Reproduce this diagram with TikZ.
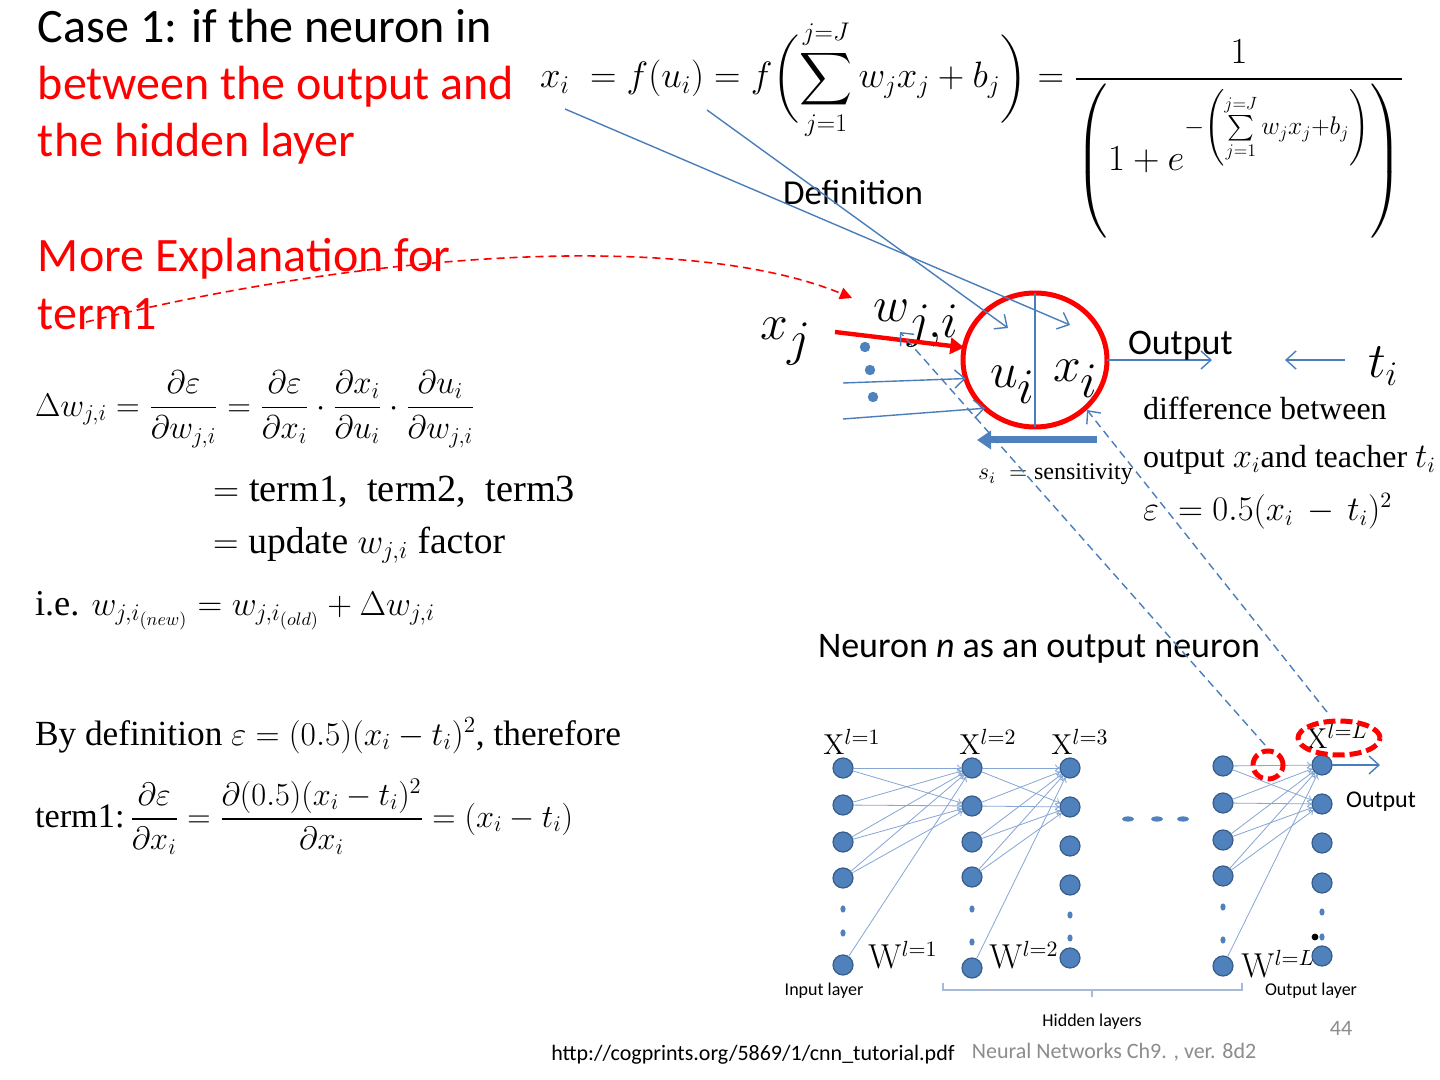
\documentclass[tikz,border=0pt]{standalone}
\usepackage[no-math]{fontspec}
\usepackage{amsmath}
\usepackage{graphicx}
\setmainfont{Carlito}
\newfontfamily\tnr{Liberation Serif}
\usetikzlibrary{arrows.meta,shapes.geometric}
\definecolor{lblue}{HTML}{4A7EBB}
\definecolor{nblue}{HTML}{4F81BD}
\definecolor{nedge}{HTML}{385D8A}
\definecolor{eblue}{HTML}{86A6D6}
\definecolor{fgray}{HTML}{8C8C8C}
\definecolor{bgray}{HTML}{A6BAD8}
\newcommand{\tr}[1]{\text{\tnr #1}}
\newcommand{\fs}[1]{\fontsize{#1}{#1}\selectfont}
\begin{document}
\begin{tikzpicture}[x=0.5pt,y=-0.5pt,
  every node/.style={inner sep=0pt,outer sep=0pt},
  ttl/.style={anchor=base west,font=\fs{24}},
  bw/.style={anchor=base west},
  nn/.style={circle,fill=nblue,draw=nedge,line width=0.6pt,minimum size=10pt,inner sep=0pt},
  wire/.style={draw=eblue,line width=0.4pt,-{To[length=2.5pt,width=3.5pt]}},
  thinblue/.style={draw=lblue,line width=0.7pt},
  opentip/.style={-{Straight Barb[length=5pt,width=9pt,line width=0.7pt]}},
  bdash/.style={draw=lblue,line width=0.7pt,dash pattern=on 4pt off 2.5pt},
  rdash/.style={draw=red,line width=2.5pt,dash pattern=on 6pt off 2.5pt},
]
\fill[white] (0,0) rectangle (1440,1080);
\useasboundingbox (0,0) rectangle (1440,1080);

% ---------- left titles ----------
\node[ttl] (t1) at (38,43) {Case 1: if the neuron in};
\node[ttl,text=red] (t2) at (38,100) {between the output and};
\node[ttl,text=red] (t3) at (38,157) {the hidden layer};
\node[ttl,text=red] (t4) at (38,272) {More Explanation for};
\node[ttl,text=red] (t5) at (38,330) {term1};

% ---------- top formula ----------
\node[bw] (fdef) at (540,88) {\resizebox{432pt}{!}{\fs{24}$\displaystyle x_i \;= f(u_i) = f\biggl(\sum_{j=1}^{j=J} w_j x_j + b_j\biggr) = \frac{1}{\left(1+e^{-\left(\sum\limits_{j=1}^{j=J} w_j x_j + b_j\right)}\rule[-1.1em]{0pt}{2.4em}\right)}$}};
\node[bw,font=\fs{17.5}] (defn) at (783,205) {Definition};

% ---------- left equations ----------
\node[bw] (e1) at (35,416) {\resizebox{220pt}{!}{\fs{22}$\displaystyle \Delta w_{j,i} = \frac{\partial\varepsilon}{\partial w_{j,i}} = \frac{\partial\varepsilon}{\partial x_i}\cdot\frac{\partial x_i}{\partial u_i}\cdot\frac{\partial u_i}{\partial w_{j,i}}$}};
\node[bw] (e2) at (213,502) {\resizebox{181pt}{!}{\fs{22}$=\tr{term1,\ \ term2,\ \ term3}$}};
\node[bw] (e3) at (213,553) {\resizebox{146pt}{!}{\fs{22}$=\tr{update }w_{j,i}\tr{ factor}$}};
\node[bw] (e4) at (35,615) {\resizebox{200pt}{!}{\fs{22}$\tr{i.e. }w_{j,i_{(new)}} = w_{j,i_{(old)}} + \Delta w_{j,i}$}};
\node[bw] (e5) at (35,745) {\resizebox{293pt}{!}{\fs{22}$\tr{By definition }\varepsilon = (0.5)(x_i - t_i)^2\tr{, therefore}$}};
\node[bw] (e6) at (35,827) {\resizebox{269pt}{!}{\fs{22}$\displaystyle\tr{term1:}\,\frac{\partial\varepsilon}{\partial x_i} = \frac{\partial(0.5)(x_i - t_i)^2}{\partial x_i} = (x_i - t_i)$}};

% ---------- neuron ----------
\node[ellipse,draw=red,line width=2.5pt,minimum width=72pt,minimum height=67pt] (neu) at (1035,360) {};
\draw[thinblue] (neu.north) -- (neu.south);
\node[bw,font=\fs{34}] (ui) at (990,388) {$u_i$};
\node[bw,font=\fs{34}] (xi) at (1053,382) {$x_i$};
\node[bw,font=\fs{34}] (xj) at (760,340) {$x_j$};
\node[bw,font=\fs{34}] (wji) at (873,322) {$w_{j,i}$};
\node[bw,font=\fs{24}] (ti) at (1368,378) {$t_i$};

\coordinate (ra) at (835,332);
\draw[red,line width=2.2pt,-{Triangle[length=7pt,width=8pt]}] (ra) -- (neu.170);
\coordinate (in1) at (843,383);
\coordinate (in2) at (843,419);
\draw[thinblue,opentip] (in1) -- (neu.195);
\draw[thinblue,opentip] (in2) -- (neu.224);
\fill[nblue] (865,347) circle (2.6pt);
\fill[nblue] (870,370) circle (2.6pt);
\fill[nblue] (873,397) circle (2.6pt);

% lines from the definition formula
\coordinate (fx) at (565,109);
\coordinate (fu) at (707,110);
\coordinate (nx) at (1070,325);
\coordinate (nu) at (1008,328);
\draw[thinblue,opentip] (fx) -- (nx);
\draw[thinblue,opentip] (fu) -- (nu);

% output and teacher
\coordinate (outtip) at (1212,360);
\draw[thinblue,opentip] (neu.east) -- (outtip);
\node[bw,font=\fs{18}] (outl) at (1128,355) {Output};
\coordinate (tstart) at (1345,360);
\coordinate (ttip) at (1285,360);
\draw[thinblue,opentip] (tstart) -- (ttip);

% sensitivity arrow
\coordinate (sa) at (1097,440);
\coordinate (sb) at (977,440);
\draw[nblue,line width=3.5pt,-{Triangle[length=7pt,width=9pt]}] (sa) -- (sb);
\node[bw,font=\fs{12}] (sens) at (978,480) {$s_i\;=\tr{sensitivity}$};

\node[bw,font=\fs{16}\tnr] (d1) at (1143,420) {difference between};
\node[bw,font=\fs{16}\tnr] (d2) at (1143,467) {output $x_i$and teacher $t_i$};
\node[bw,font=\fs{16}\tnr] (d3) at (1143,520) {$\varepsilon\;=0.5(x_i\,-\,t_i)^2$};

% red dashed curve
\coordinate (cs) at (86,322);
\coordinate (ce) at (852,298);
\draw[red,line width=0.8pt,dash pattern=on 4pt off 2.5pt,-{Triangle[length=6pt,width=6pt]}] (cs) .. controls (400,245) and (700,235) .. (ce);

\node[bw,font=\fs{18}] (nlab) at (818,657) {Neuron \textit{n} as an output neuron};

% ---------- network ----------
\foreach \n/\y in {1/768,2/805,3/842,4/878,5/965} \node[nn] (a\n) at (843,\y) {};
\foreach \n/\y in {1/768,2/806,3/842,4/877,5/968} \node[nn] (b\n) at (972,\y) {};
\foreach \n/\y in {1/768,2/807,3/846,4/885,5/958} \node[nn] (c\n) at (1070,\y) {};
\foreach \n/\y in {1/766,2/803,3/840,4/876,5/966} \node[nn] (d\n) at (1223,\y) {};
\foreach \n/\y in {1/765,2/804,3/843,4/883,5/956} \node[nn] (e\n) at (1322,\y) {};

\foreach \i in {1,...,4}{
  \draw[wire] (a\i) -- (b1); \draw[wire] (a\i) -- (b2);
  \draw[wire] (b\i) -- (c1); \draw[wire] (b\i) -- (c2);
  \draw[wire] (d\i) -- (e1); \draw[wire] (d\i) -- (e2);
}
\draw[wire] (a5) -- (b1);
\draw[wire] (b5) -- (c1);
\draw[wire] (d5) -- (e1);

% column dots
\foreach \x/\y in {843/909,843/933,972/909,972/942,1070/915,1070/938,1223/907,1223/940,1322/912,1322/937}
  \fill[nblue] (\x,\y) ellipse [x radius=1.3pt, y radius=1.8pt];
\fill[black] (1315,937) circle (1.7pt);
\foreach \x in {1128,1157,1183}
  \fill[nblue] (\x,819) ellipse [x radius=3pt, y radius=1.3pt];

\coordinate (otip) at (1380,765);
\draw[thinblue,opentip] (e1) -- (otip);

% labels
\node[font=\fs{15}] (x1) at (852,742) {$\mathrm{X}^{l=1}$};
\node[font=\fs{15}] (x2) at (988,742) {$\mathrm{X}^{l=2}$};
\node[font=\fs{15}] (x3) at (1080,742) {$\mathrm{X}^{l=3}$};
\node[font=\fs{15}] (xL) at (1337,736) {$\mathrm{X}^{l=L}$};
\node[font=\fs{16}] (w1) at (903,955) {$\mathrm{W}^{l=1}$};
\node[font=\fs{16}] (w2) at (1024,955) {$\mathrm{W}^{l=2}$};
\node[font=\fs{16}] (wL) at (1278,964) {$\mathrm{W}^{l=L}$};
\node[font=\fs{9}] (inl) at (824,991) {Input layer};
\node[font=\fs{9}] (outlay) at (1311,991) {Output layer};
\node[font=\fs{9}] (hid) at (1092,1022) {Hidden layers};
\node[font=\fs{12}] (outn) at (1381,802) {Output};

% bracket
\draw[bgray,line width=0.6pt] (943,983) -- (943,990) -- (1242,990) -- (1242,983);
\draw[bgray,line width=0.6pt] (1092,990) -- (1092,997);

% red dashed ellipses
\node[ellipse,rdash,minimum width=15pt,minimum height=14pt] (smE) at (1268,765) {};
\node[ellipse,rdash,minimum width=41pt,minimum height=17pt] (bigE) at (1339,738) {};

% dashed back lines
\coordinate (bd1) at (1265,745);
\coordinate (bt1) at (900,332);
\coordinate (bd2) at (1327,712);
\coordinate (bt2) at (1087,410);
\draw[bdash,opentip] (bd1) -- (bt1);
\draw[bdash,opentip] (bd2) -- (bt2);

% footer
\node[font=\fs{11}] (url) at (753,1055) {http://cogprints.org/5869/1/cnn\_tutorial.pdf};
\node[font=\fs{11},text=fgray] (foot) at (1114,1052) {Neural Networks Ch9. , ver. 8d2};
\node[font=\fs{11},text=fgray] (pg) at (1341,1028) {44};
\end{tikzpicture}
\end{document}
